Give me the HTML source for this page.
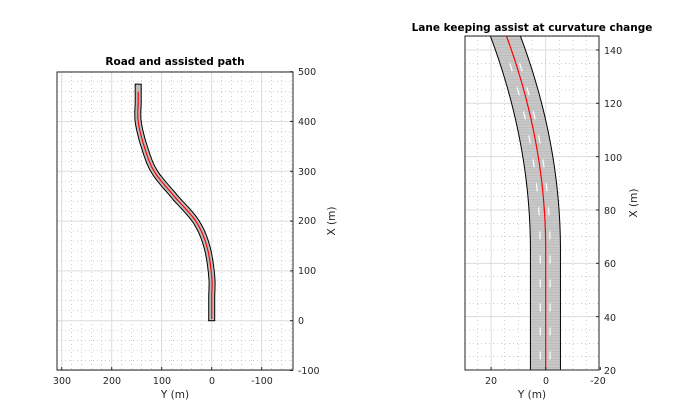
<!DOCTYPE html>
<html><head><meta charset="utf-8"><style>
body{margin:0;background:#fff;}
svg{display:block;font-family:"DejaVu Sans","Liberation Sans",sans-serif;}
</style></head><body>
<svg id="s" width="700" height="420" viewBox="0 0 700 420" xmlns="http://www.w3.org/2000/svg">
<rect width="700" height="420" fill="#fff"/>
<g id="g1"></g>
<g id="g2"></g>
<g font-size="9.5" fill="#262626">
<text x="175" y="65" text-anchor="middle" font-weight="bold" font-size="10.5" fill="#000">Road and assisted path</text>
<g text-anchor="start">
<text x="298" y="75">500</text><text x="298" y="125">400</text><text x="298" y="175">300</text>
<text x="298" y="224">200</text><text x="298" y="274">100</text><text x="298" y="324">0</text>
<text x="298" y="374">-100</text>
</g>
<g text-anchor="middle">
<text x="62" y="384">300</text><text x="112" y="384">200</text><text x="162" y="384">100</text>
<text x="212" y="384">0</text><text x="262" y="384">-100</text>
<text x="175" y="398" font-size="10.5">Y (m)</text>
</g>
<text transform="translate(335,221) rotate(-90)" text-anchor="middle" font-size="10.5">X (m)</text>

<text x="532" y="31" text-anchor="middle" font-weight="bold" font-size="10.5" fill="#000">Lane keeping assist at curvature change</text>
<g text-anchor="start">
<text x="604" y="54">140</text><text x="604" y="107">120</text><text x="604" y="161">100</text>
<text x="604" y="214">80</text><text x="604" y="267">60</text><text x="604" y="321">40</text>
<text x="604" y="374">20</text>
</g>
<g text-anchor="middle">
<text x="491" y="384">20</text><text x="546" y="384">0</text><text x="598" y="384">-20</text>
<text x="532" y="398" font-size="10.5">Y (m)</text>
</g>
<text transform="translate(637,203) rotate(-90)" text-anchor="middle" font-size="10.5">X (m)</text>
</g>
</svg>
<script>
const NS="http://www.w3.org/2000/svg";
function el(p,t,a){const e=document.createElementNS(NS,t);for(const k in a)e.setAttribute(k,a[k]);p.appendChild(e);return e;}
const MAJ='#dcdcdc', MIN='#a0a0a0';
const g1=document.getElementById('g1');
const L={x0:57,x1:293,y0:72,y1:370};
const lx=Y=>211.7-0.5*Y, ly=X=>320.7-0.498*X;
for(let Y=-160;Y<=300;Y+=20){const x=lx(Y);if(x<L.x0||x>L.x1)continue;
 el(g1,'line',{x1:x,x2:x,y1:L.y0,y2:L.y1,stroke:Y%100==0?MAJ:MIN,'stroke-width':Y%100==0?1:0.5,'stroke-dasharray':Y%100==0?'':'1,3'});}
for(let X=-100;X<=500;X+=20){const y=ly(X);
 el(g1,'line',{x1:L.x0,x2:L.x1,y1:y,y2:y,stroke:X%100==0?MAJ:MIN,'stroke-width':X%100==0?1:0.5,'stroke-dasharray':X%100==0?'':'1,3'});}
const pts=[[0,0],[45,0],[90,0],[150,10],[200,32],[250,75],[300,115],[350,135],[400,147],[440,147],[475,147]];
function cr(P,n){const out=[];for(let i=0;i<P.length-1;i++){const p0=P[Math.max(0,i-1)],p1=P[i],p2=P[i+1],p3=P[Math.min(P.length-1,i+2)];
 for(let k=0;k<n;k++){const t=k/n,t2=t*t,t3=t2*t;const f=j=>0.5*((2*p1[j])+(-p0[j]+p2[j])*t+(2*p0[j]-5*p1[j]+4*p2[j]-p3[j])*t2+(-p0[j]+3*p1[j]-3*p2[j]+p3[j])*t3);out.push([f(0),f(1)]);}}
 out.push(P[P.length-1]);return out;}
const sp=cr(pts,16);
let d='M'+sp.map(p=>lx(p[1]).toFixed(1)+','+ly(p[0]).toFixed(1)).join(' L');
el(g1,'path',{d:d,fill:'none',stroke:'#000','stroke-width':7,'stroke-linejoin':'round'});
el(g1,'path',{d:d,fill:'none',stroke:'#bdbdbd','stroke-width':5,'stroke-linejoin':'round'});
// end caps
el(g1,'line',{x1:lx(0)-3.5,x2:lx(0)+3.5,y1:ly(0),y2:ly(0),stroke:'#000'});
el(g1,'line',{x1:lx(147)-3.5,x2:lx(147)+3.5,y1:ly(475),y2:ly(475),stroke:'#000'});
const rp=sp.filter(p=>p[0]<=462&&p[0]>=2);
el(g1,'path',{d:'M'+rp.map(p=>lx(p[1]).toFixed(1)+','+ly(p[0]).toFixed(1)).join(' L'),fill:'none',stroke:'#f00','stroke-width':1.2});
el(g1,'rect',{x:L.x0,y:L.y0,width:L.x1-L.x0,height:L.y1-L.y0,fill:'none',stroke:'#262626','stroke-width':1});
for(let X=-100;X<=500;X+=100){const y=ly(X);el(g1,'line',{x1:L.x1-3,x2:L.x1,y1:y,y2:y,stroke:'#262626'});}
for(let Y=-100;Y<=300;Y+=100){const x=lx(Y);el(g1,'line',{x1:x,x2:x,y1:L.y1-3,y2:L.y1,stroke:'#262626'});}
const g2=document.getElementById('g2');
const R={x0:465,x1:599,y0:36,y1:370};
const rx=Y=>545.7-2.73*Y, ry=X=>370-2.667*(X-20);
const clip=el(g2,'clipPath',{id:'c2'});el(clip,'rect',{x:R.x0,y:R.y0,width:R.x1-R.x0,height:R.y1-R.y0});
const gg=el(g2,'g',{'clip-path':'url(#c2)'});
for(let Y=-20;Y<=30;Y+=5){const x=rx(Y);
 el(gg,'line',{x1:x,x2:x,y1:R.y0,y2:R.y1,stroke:Y%20==0?MAJ:MIN,'stroke-width':Y%20==0?1:0.5,'stroke-dasharray':Y%20==0?'':'1,3'});}
for(let X=20;X<=150;X+=5){const y=ry(X);
 el(gg,'line',{x1:R.x0,x2:R.x1,y1:y,y2:y,stroke:X%20==0?MAJ:MIN,'stroke-width':X%20==0?1:0.5,'stroke-dasharray':X%20==0?'':'1,3'});}
const C=X=>X<65?0:0.00228*(X-65)*(X-65);
let le=[],re=[];
for(let X=18;X<=150;X+=1){le.push([rx(C(X)+5.6),ry(X)]);re.push([rx(C(X)-5.4),ry(X)]);}
const poly=le.concat(re.slice().reverse()).map(p=>p[0].toFixed(1)+','+p[1].toFixed(1)).join(' ');
el(gg,'polygon',{points:poly,fill:'#c8c8c8'});
for(let X=20;X<=150;X+=1){const y=ry(X);el(gg,'line',{x1:rx(C(X)+5.6),x2:rx(C(X)-5.4),y1:y,y2:y,stroke:'#b4b4b4','stroke-width':0.5});}
for(let X=24;X<=140;X+=9){for(const o of [2,-1.6]){el(gg,'line',{x1:rx(C(X)+o),y1:ry(X),x2:rx(C(X+3)+o),y2:ry(X+3),stroke:'#fff','stroke-width':1.2});}}
el(gg,'polyline',{points:le.map(p=>p.join(',')).join(' '),fill:'none',stroke:'#000','stroke-width':1});
el(gg,'polyline',{points:re.map(p=>p.join(',')).join(' '),fill:'none',stroke:'#000','stroke-width':1});
let rl=[];for(let X=18;X<=150;X+=1){rl.push(rx(C(X)*0.98).toFixed(1)+','+ry(X).toFixed(1));}
el(gg,'polyline',{points:rl.join(' '),fill:'none',stroke:'#f00','stroke-width':1.2});
el(g2,'rect',{x:R.x0,y:R.y0,width:R.x1-R.x0,height:R.y1-R.y0,fill:'none',stroke:'#262626','stroke-width':1});
for(let X=20;X<=140;X+=20){const y=ry(X);el(g2,'line',{x1:R.x1-3,x2:R.x1,y1:y,y2:y,stroke:'#262626'});}
for(let Y=-20;Y<=20;Y+=20){const x=rx(Y);el(g2,'line',{x1:x,x2:x,y1:R.y1-3,y2:R.y1,stroke:'#262626'});}
</script>
</body></html>
